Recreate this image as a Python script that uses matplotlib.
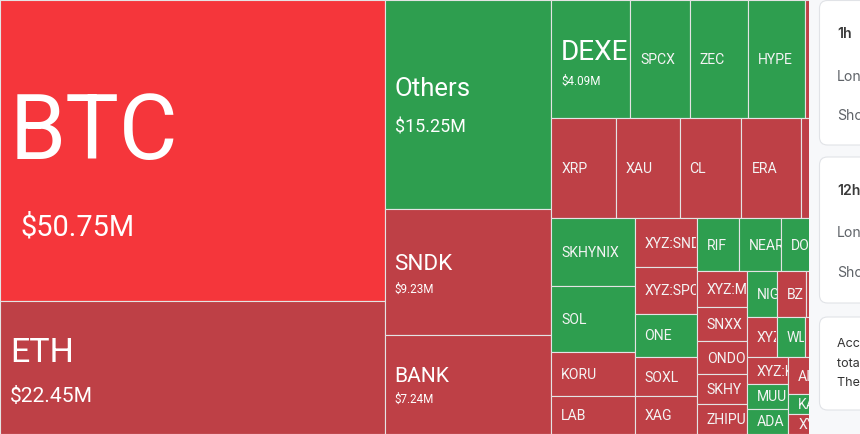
"""
Liquidation heatmap - squarified treemap of liquidations per symbol (USD M)
with the right-hand summary panel partly visible.
"""

import matplotlib
matplotlib.use('Agg')
import matplotlib.pyplot as plt
from matplotlib.patches import Rectangle, FancyBboxPatch
from matplotlib.transforms import Bbox, TransformedBbox

# ── Data (sorted descending, as the treemap lays them out) ──────────────────
symbols = ["BTC", "ETH", "Others", "SNDK", "BANK",
           "DEXE", "SPCX", "ZEC", "HYPE", "PUMP",
           "XRP", "XAU", "CL", "ERA", "LINK",
           "SKHYNIX", "SOL", "KORU", "LAB",
           "XYZ:SNDK", "XYZ:SPCX", "ONE", "SOXL", "XAG",
           "RIF", "NEAR", "DOGE", "SUI",
           "XYZ:MU", "SNXX", "ONDO", "SKHY", "ZHIPU",
           "NIGHT", "BZ", "AVAX", "ENA",
           "XYZ:NVDA", "WLFI", "BNB", "TAO",
           "XYZ:KR", "MUU", "ADA",
           "AIXBT", "LTC", "UNI",
           "KAITO", "XYZ:GOLD",
           "TRX", "WLD", "PENGU", "APT"]

values = [50.75, 22.45, 15.25, 9.23, 7.24,
          4.09, 3.11, 3.03, 2.94, 2.86,
          2.84, 2.79, 2.71, 2.62, 2.58,
          2.47, 2.40, 1.61, 1.40,
          1.34, 1.26, 1.20, 1.06, 1.03,
          0.985, 0.97, 0.92, 0.905,
          0.79, 0.74, 0.73, 0.66, 0.65,
          0.62, 0.577, 0.56, 0.54,
          0.526, 0.497, 0.49, 0.48,
          0.475, 0.46, 0.455,
          0.40, 0.38, 0.37,
          0.26, 0.26,
          0.22, 0.20, 0.17, 0.15]

# which side got liquidated most: long -> red, short -> green
dominant = ["long", "long", "short", "long", "long",
            "short", "short", "short", "short", "long",
            "long", "long", "long", "long", "long",
            "short", "short", "long", "long",
            "long", "long", "short", "long", "long",
            "short", "short", "short", "long",
            "long", "long", "long", "long", "long",
            "short", "long", "long", "long",
            "long", "short", "long", "long",
            "long", "short", "short",
            "long", "long", "long",
            "short", "long",
            "long", "long", "long", "long"]

highlight = "BTC"
panel_titles = ["1h", "12h"]
panel_rows = ["Long", "Short"]
note_lines = ["According to statistics, in the past 24 hours",
              "total liquidations across the market reached",
              "The largest single liquidation order happened"]

# ── Styles ──────────────────────────────────────────────────────────────────
W, H = 860, 434
PANEL_X = 809          # the side panel covers the treemap from here on
PHI = 0.5 * (1 + 5 ** 0.5)
COLORS = {"long": "#BE4046", "short": "#2E9E4F"}
HIGHLIGHT_COLOR = "#F5363B"
LABEL_FONT = "Roboto"
PANEL_FONT = ["Inter", "DejaVu Sans"]
PT = 72 / 100  # px -> pt at dpi 100

# name px, value px, name dy, value dy (cap centres from cell centre), value dx
BIG_LABELS = {
    "BTC":    (90, 29, -23, 74.5, 11),
    "ETH":    (34, 21, -18, 27, 0),
    "Others": (25.7, 17.9, -17, 22, 0),
    "SNDK":   (22.5, 11.6, -10, 17, 0),
    "BANK":   (21, 11.6, -10, 14.5, 0),
    "DEXE":   (28, 11.6, -9, 22, 0),
}
SMALL_PX = 14


# ── Squarified layout (same rules as the echarts treemap) ───────────────────
def worst(row_areas, fixed, ratio):
    s = sum(row_areas)
    if not s:
        return float("inf")
    f = fixed * fixed * ratio
    return max(f * max(row_areas) / (s * s), (s * s) / (f * min(row_areas)))


def place(row, fixed, rect, areas, out, flush):
    horiz = fixed == rect["w"]
    s = sum(areas[j] for j in row)
    other = s / fixed if fixed else 0
    cross = rect["h"] if horiz else rect["w"]
    if flush or other > cross:
        other = cross
    last = rect["x"] if horiz else rect["y"]
    end = last + (rect["w"] if horiz else rect["h"])
    for k, j in enumerate(row):
        step = areas[j] / other if other else 0
        remain = end - last
        if k == len(row) - 1 or remain < step:
            step = remain
        if horiz:
            out[j] = (last, rect["y"], step, other)
        else:
            out[j] = (rect["x"], last, other, step)
        last += step
    if horiz:
        rect["y"] += other
        rect["h"] -= other
    else:
        rect["x"] += other
        rect["w"] -= other


def squarify(vals, w, h, ratio=PHI):
    total = sum(vals)
    areas = [v / total * w * h for v in vals]
    out = [None] * len(vals)
    rect = {"x": 0.0, "y": 0.0, "w": float(w), "h": float(h)}
    fixed = min(rect["w"], rect["h"])
    best = float("inf")
    row = []
    i = 0
    while i < len(areas):
        row.append(i)
        score = worst([areas[j] for j in row], fixed, ratio)
        if score <= best:
            i += 1
            best = score
        else:
            row.pop()
            place(row, fixed, rect, areas, out, False)
            fixed = min(rect["w"], rect["h"])
            row = []
            best = float("inf")
    if row:
        place(row, fixed, rect, areas, out, True)
    return out


def cap_text(ax, x, y_cap, s, px, clip, **kw):
    """Place text so that the middle of its capitals sits at y_cap,
    clipped to its own cell."""
    t = ax.text(x, y_cap + 0.355 * px, s, fontsize=px * PT, va="baseline",
                ha="left", **kw)
    t.set_clip_path(None)
    t.set_clip_box(clip)
    t.set_clip_on(True)
    return t


# ── Plot ────────────────────────────────────────────────────────────────────
fig = plt.figure(figsize=(W / 100, H / 100), dpi=100)
ax = fig.add_axes([0, 0, 1, 1])
ax.set_xlim(0, W)
ax.set_ylim(H, 0)
ax.axis("off")

cells = squarify(values, W, H)
for name, val, side, (x, y, w, h) in zip(symbols, values, dominant, cells):
    color = HIGHLIGHT_COLOR if name == highlight else COLORS[side]
    ax.add_patch(Rectangle((x, y), w, h, facecolor=color, edgecolor="#e4e4e4",
                           linewidth=0.8, zorder=1))
    if x + 10 >= PANEL_X:
        continue  # label sits under the side panel
    clip = TransformedBbox(
        Bbox.from_extents(x, y, min(x + w - 0.5, PANEL_X), y + h),
        ax.transData)
    cy = y + h / 2
    if name in BIG_LABELS:
        fn, fv, dn, dv, dx = BIG_LABELS[name]
        cap_text(ax, x + 10, cy + dn, name, fn, clip, color="white",
                 family=LABEL_FONT, zorder=2)
        cap_text(ax, x + 10 + dx, cy + dv, f"${val:.2f}M", fv, clip,
                 color="white", family=LABEL_FONT, zorder=2)
    else:
        cap_text(ax, x + 10, cy, name, SMALL_PX, clip, color="#f4f4f4",
                 family=LABEL_FONT, zorder=2)

# ── Right-hand panel (overlaps the treemap) ─────────────────────────────────
ax.add_patch(Rectangle((PANEL_X, 0), W - PANEL_X, H, facecolor="#f7f8fa",
                       edgecolor="none", zorder=5))
cards = [(0.5, 145), (157, 303), (317, 410)]
for top, bottom in cards:
    ax.add_patch(FancyBboxPatch((819.5, top), 80, bottom - top,
                                boxstyle="round,pad=0,rounding_size=8",
                                facecolor="white", edgecolor="#e1e3e7",
                                linewidth=0.8, zorder=6))

for title, (top, bottom) in zip(panel_titles, cards[:2]):
    ax.text(837, top + 34, title, fontsize=14 * PT, fontweight="semibold",
            color="#3a3a3a", va="center", ha="left", family=PANEL_FONT,
            zorder=7)
    for k, label in enumerate(panel_rows):
        ax.text(837, top + 76 + 40 * k, label, fontsize=14 * PT,
                color="#5f6368", va="center", ha="left", family=PANEL_FONT,
                zorder=7)

for k, line in enumerate(note_lines):
    ax.text(837, cards[2][0] + 27 + 19.5 * k, line, fontsize=12.5 * PT,
            color="#333333", va="center", ha="left", family=PANEL_FONT,
            zorder=7)

fig.savefig("out.png", dpi=100)
plt.close(fig)
